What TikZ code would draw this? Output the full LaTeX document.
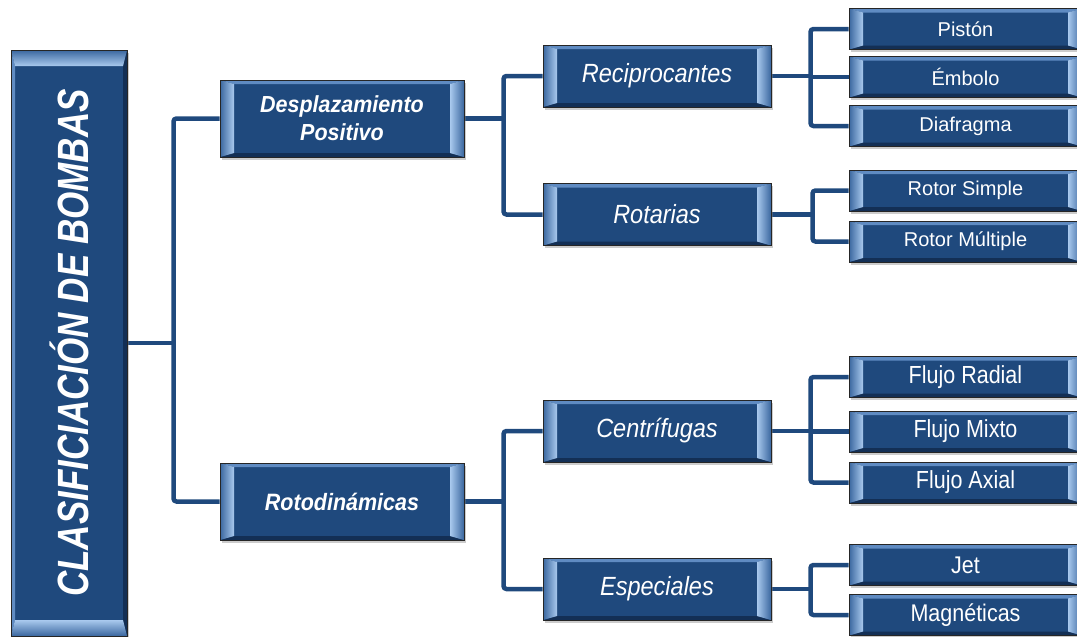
\documentclass[tikz,border=0pt]{standalone}
\usepackage{fontspec}
\setmainfont{Liberation Sans}
\usetikzlibrary{shadows,backgrounds,calc}
\definecolor{boxblue}{HTML}{1F497D}
\definecolor{linecol}{HTML}{1F497D}
\definecolor{bevlight}{HTML}{A9C9EE}
\definecolor{bevmid}{HTML}{3A679F}
\definecolor{bevtop}{HTML}{5F8BC2}
\definecolor{bevbot}{HTML}{132F55}
\newcommand{\ysc}[2]{\scalebox{1}[#1]{#2}}
\tikzset{
  boxbase/.style={draw=black!85, line width=1pt, fill=boxblue, text=white, inner sep=0pt,
    drop shadow={shadow xshift=2pt,shadow yshift=-2.5pt,opacity=0.4}},
  hbev/.style={boxbase, path picture={
    \fill[bevtop] let \p1=(path picture bounding box.north west),\p2=(path picture bounding box.south east) in
      (\x1,\y1)--(\x2,\y1)--(\x2-14pt,\y1-4pt)--(\x1+14pt,\y1-4pt)--cycle;
    \fill[bevbot] let \p1=(path picture bounding box.north west),\p2=(path picture bounding box.south east) in
      (\x1,\y2)--(\x2,\y2)--(\x2-14pt,\y2+4pt)--(\x1+14pt,\y2+4pt)--cycle;
    \shade[left color=bevmid,right color=bevlight] let \p1=(path picture bounding box.north west),\p2=(path picture bounding box.south east) in
      (\x1,\y1)--(\x1+14pt,\y1-4pt)--(\x1+14pt,\y2+4pt)--(\x1,\y2)--cycle;
    \shade[left color=bevlight,right color=bevmid] let \p1=(path picture bounding box.north west),\p2=(path picture bounding box.south east) in
      (\x2,\y1)--(\x2-14pt,\y1-4pt)--(\x2-14pt,\y2+4pt)--(\x2,\y2)--cycle;
  }},
  vbev/.style={boxbase, path picture={
    \fill[bevtop] let \p1=(path picture bounding box.north west),\p2=(path picture bounding box.south east) in
      (\x1,\y1)--(\x1+4pt,\y1-16pt)--(\x1+4pt,\y2+16pt)--(\x1,\y2)--cycle;
    \fill[bevbot] let \p1=(path picture bounding box.north west),\p2=(path picture bounding box.south east) in
      (\x2,\y1)--(\x2-4pt,\y1-16pt)--(\x2-4pt,\y2+16pt)--(\x2,\y2)--cycle;
    \shade[top color=bevmid,bottom color=bevlight] let \p1=(path picture bounding box.north west),\p2=(path picture bounding box.south east) in
      (\x1,\y1)--(\x2,\y1)--(\x2-4pt,\y1-16pt)--(\x1+4pt,\y1-16pt)--cycle;
    \shade[top color=bevlight,bottom color=bevmid] let \p1=(path picture bounding box.north west),\p2=(path picture bounding box.south east) in
      (\x1,\y2)--(\x2,\y2)--(\x2-4pt,\y2+16pt)--(\x1+4pt,\y2+16pt)--cycle;
  }},
  tiertwo/.style={hbev, minimum width=244pt, minimum height=77pt, align=center,
    font=\fontsize{21.5}{28}\selectfont\bfseries\itshape},
  tierthree/.style={hbev, minimum width=228pt, minimum height=62pt,
    font=\fontsize{23.5}{28}\selectfont\itshape},
  leafbox/.style={hbev, minimum width=233pt, minimum height=41pt,
    font=\fontsize{20}{24}\selectfont},
  leafbig/.style={leafbox, font=\fontsize{21.5}{24}\selectfont},
  conn/.style={draw=linecol, line width=4.5pt, rounded corners=3pt},
}
\begin{document}
\begin{tikzpicture}[x=1pt,y=1pt]
\useasboundingbox (0,0) rectangle (1077,-637);
% main
\node[vbev, minimum width=116pt, minimum height=586pt] (main) at (69,-343)
  {\rotatebox{90}{\ysc{1.25}{\fontsize{35}{40}\selectfont\bfseries\itshape CLASIFICIACIÓN DE BOMBAS}}};
% tier two
\node[tiertwo] (dp) at (342,-118.5) {\ysc{1.08}{Desplazamiento}\\\ysc{1.08}{Positivo}};
\node[tiertwo] (roto) at (342,-501.5) {\ysc{1.1}{Rotodinámicas}};
% tier three
\node[tierthree] (recip) at (657,-76) {\ysc{1.12}{Reciprocantes}};
\node[tierthree] (rotar) at (657,-214.5) {\ysc{1.12}{Rotarias}};
\node[tierthree] (centr) at (657,-431) {\ysc{1.12}{Centrífugas}};
\node[tierthree] (espec) at (657,-589) {\ysc{1.12}{Especiales}};
% leaves
\node[leafbox] (piston) at (965.5,-29) {Pistón};
\node[leafbox] (embolo) at (965.5,-77) {Émbolo};
\node[leafbox] (diafr) at (965.5,-126) {Diafragma};
\node[leafbox] (rsimple) at (965.5,-190.5) {Rotor Simple};
\node[leafbox] (rmult) at (965.5,-241.5) {Rotor Múltiple};
\node[leafbig] (fradial) at (965.5,-377) {\ysc{1.15}{Flujo Radial}};
\node[leafbig] (fmixto) at (965.5,-431.5) {\ysc{1.15}{Flujo Mixto}};
\node[leafbig] (faxial) at (965.5,-482.5) {\ysc{1.15}{Flujo Axial}};
\node[leafbig] (jet) at (965.5,-565) {\ysc{1.12}{Jet}};
\node[leafbig] (magn) at (965.5,-615) {\ysc{1.12}{Magnéticas}};
% connectors
\begin{scope}[on background layer]
\coordinate (b0) at ($(main.east)+(46,0)$);
\draw[conn] (dp.west) -| (b0) |- (roto.west);
\draw[conn] (main.east) -- (b0);
\coordinate (b1) at ($(dp.east)+(39,0)$);
\draw[conn] (recip.west) -| (b1) |- (rotar.west);
\draw[conn] (dp.east) -- (b1);
\coordinate (b2) at ($(roto.east)+(39,0)$);
\draw[conn] (centr.west) -| (b2) |- (espec.west);
\draw[conn] (roto.east) -- (b2);
\coordinate (b3) at ($(recip.east)+(39,0)$);
\draw[conn] (piston.west) -| (b3) |- (diafr.west);
\draw[conn] (recip.east) -- (b3);
\draw[conn] (b3 |- embolo.west) -- (embolo.west);
\coordinate (b4) at ($(rotar.east)+(41,0)$);
\draw[conn] (rsimple.west) -| (b4) |- (rmult.west);
\draw[conn] (rotar.east) -- (b4);
\coordinate (b5) at ($(centr.east)+(39,0)$);
\draw[conn] (fradial.west) -| (b5) |- (faxial.west);
\draw[conn] (centr.east) -- (b5);
\draw[conn] (b5 |- fmixto.west) -- (fmixto.west);
\coordinate (b6) at ($(espec.east)+(39,0)$);
\draw[conn] (jet.west) -| (b6) |- (magn.west);
\draw[conn] (espec.east) -- (b6);
\end{scope}
\end{tikzpicture}
\end{document}
